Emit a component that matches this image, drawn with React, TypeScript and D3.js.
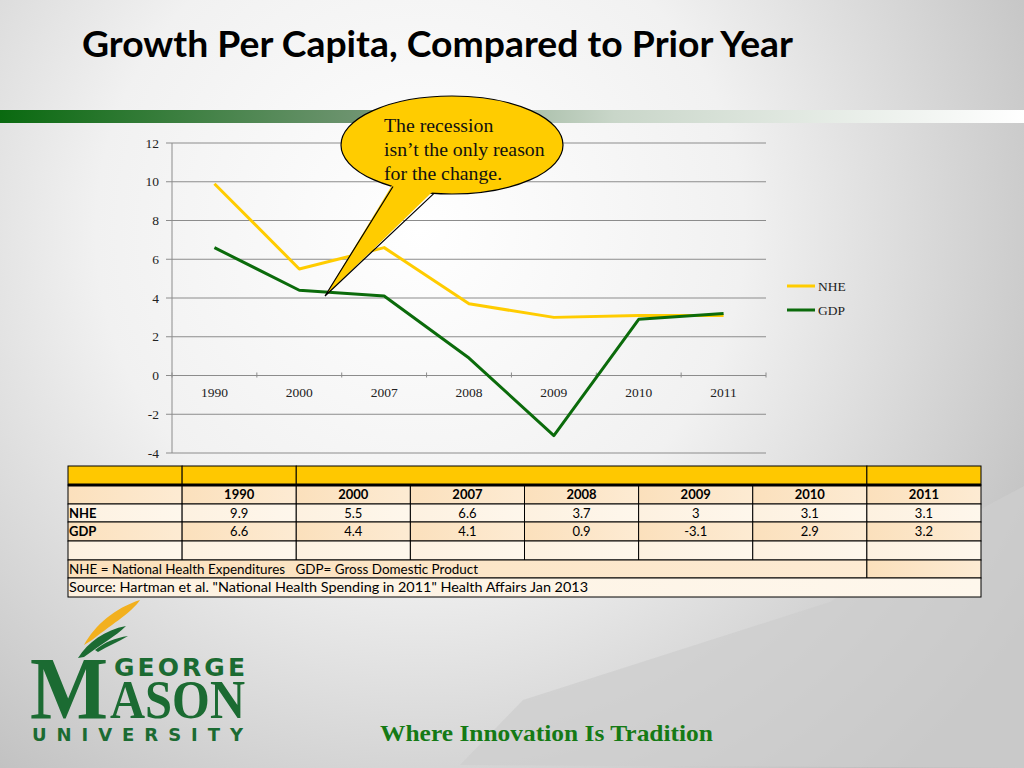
import React from "react";
import * as d3 from "d3";

const years = ["1990", "2000", "2007", "2008", "2009", "2010", "2011"];
const nhe = [9.9, 5.5, 6.6, 3.7, 3, 3.1, 3.1];
const gdp = [6.6, 4.4, 4.1, 0.9, -3.1, 2.9, 3.2];
const yTicks = [-4, -2, 0, 2, 4, 6, 8, 10, 12];
const seriesNames = ["NHE", "GDP"];
const title = "Growth Per Capita, Compared to Prior Year";
const calloutLines = ["The recession", "isn\u2019t the only reason", "for the change."];
const footnote = "NHE = National Health Expenditures   GDP= Gross Domestic Product";
const source = "Source: Hartman et al. \"National Health Spending in 2011\" Health Affairs Jan 2013";
const tagline = "Where Innovation Is Tradition";

const NHE_COLOR = "#FFCC00";
const GDP_COLOR = "#0B6B0B";
const LOGO_GREEN = "#1B6B32";

export default function App() {
  const x = d3.scaleBand<string>().domain(years).range([172, 766]).paddingInner(0).paddingOuter(0);
  const y = d3.scaleLinear().domain([-4, 12]).range([453, 143]);
  const cx = (d: string) => (x(d) as number) + x.bandwidth() / 2;

  const line = d3
    .line<number>()
    .x((_, i) => cx(years[i]))
    .y((v) => y(v));

  // table geometry
  const tL = 68;
  const tR = 981;
  const colW = (tR - tL) / 8;
  const colX = d3.range(9).map((i) => tL + i * colW);
  const rowY = [466, 485, 504, 522, 541, 560, 578, 597];

  const rowFill = (r: number) => (r % 2 === 1 ? "url(#rowA)" : "url(#rowB)");

  // callout geometry
  const ecx = 452, ecy = 145, erx = 111, ery = 49;
  const ey = (px: number) => ecy + ery * Math.sqrt(1 - ((px - ecx) / erx) ** 2);
  const b1x = 393, b2x = 434;
  const tip = [325, 296];

  const tableFont = "Lato, 'Open Sans', sans-serif";
  const serif = "'Liberation Serif', 'DejaVu Serif', serif";

  return (
    <svg
      width={1024}
      height={768}
      style={{ position: "absolute", left: 0, top: 0, display: "block" }}
      xmlns="http://www.w3.org/2000/svg"
    >
      <defs>
        <radialGradient id="bg" cx="420" cy="230" r="720" gradientUnits="userSpaceOnUse">
          <stop offset="0" stopColor="#ffffff" />
          <stop offset="0.45" stopColor="#f1f1f1" />
          <stop offset="1" stopColor="#bdbdbd" />
        </radialGradient>
        <linearGradient id="bar" x1="0" y1="0" x2="1024" y2="0" gradientUnits="userSpaceOnUse">
          <stop offset="0" stopColor="#0A6A10" />
          <stop offset="0.35" stopColor="#6E9470" />
          <stop offset="0.6" stopColor="#c9d6c9" />
          <stop offset="1" stopColor="#ffffff" />
        </linearGradient>
        <linearGradient id="rowA" x1="0" y1="0" x2="1" y2="0">
          <stop offset="0" stopColor="#FBE0BC" />
          <stop offset="1" stopColor="#FDEBD3" />
        </linearGradient>
        <linearGradient id="rowB" x1="0" y1="0" x2="1" y2="0">
          <stop offset="0" stopColor="#FDF1E0" />
          <stop offset="1" stopColor="#FEF7EC" />
        </linearGradient>
      </defs>

      {/* background */}
      <rect x={0} y={0} width={1024} height={768} fill="url(#bg)" />
      <path d="M1024,486 L975,512 L830,602 L523,700 L460,765 L1024,768 Z" fill="#cdcdcd" opacity={0.75} />

      {/* title */}
      <text
        x={82}
        y={57}
        fontFamily="Lato, 'Open Sans', sans-serif"
        fontWeight="bold"
        fontSize={37}
        fill="#000"
        textLength={711}
        lengthAdjust="spacingAndGlyphs"
      >
        {title}
      </text>

      {/* green band */}
      <rect x={0} y={110} width={1024} height={13} fill="url(#bar)" />

      {/* gridlines */}
      {yTicks.map((t) => (
        <line key={"g" + t} x1={172} x2={766} y1={y(t)} y2={y(t)} stroke="#8c8c8c" strokeWidth={1} />
      ))}
      {/* y axis */}
      <line x1={172} x2={172} y1={y(12)} y2={y(-4)} stroke="#8c8c8c" strokeWidth={1} />
      {yTicks.map((t) => (
        <g key={"yt" + t}>
          <line x1={166} x2={172} y1={y(t)} y2={y(t)} stroke="#8c8c8c" />
          <text x={159} y={y(t) + 4.5} textAnchor="end" fontFamily={serif} fontSize={13.5} fill="#222">
            {t}
          </text>
        </g>
      ))}
      {/* x axis ticks at zero */}
      {d3.range(8).map((i) => {
        const px = 172 + i * x.bandwidth();
        return <line key={"xt" + i} x1={px} x2={px} y1={y(0) - 3} y2={y(0) + 2} stroke="#8c8c8c" />;
      })}
      {years.map((yr) => (
        <text key={"xl" + yr} x={cx(yr)} y={397} textAnchor="middle" fontFamily={serif} fontSize={13.5} fill="#222">
          {yr}
        </text>
      ))}

      {/* series */}
      <path d={line(nhe) as string} fill="none" stroke={NHE_COLOR} strokeWidth={3} strokeLinejoin="round" />
      <path d={line(gdp) as string} fill="none" stroke={GDP_COLOR} strokeWidth={3} strokeLinejoin="round" />

      {/* legend */}
      {seriesNames.map((n, i) => (
        <g key={"lg" + n}>
          <line
            x1={787}
            x2={815}
            y1={286 + i * 24}
            y2={286 + i * 24}
            stroke={i === 0 ? NHE_COLOR : GDP_COLOR}
            strokeWidth={3}
          />
          <text x={818} y={290.5 + i * 24} fontFamily={serif} fontSize={13.5} fill="#222">
            {n}
          </text>
        </g>
      ))}

      {/* callout */}
      <ellipse cx={ecx} cy={ecy} rx={erx} ry={ery} fill="#FFCC00" stroke="#000" strokeWidth={1.2} />
      <polygon points={`${b1x},${ey(b1x) - 3} ${tip[0]},${tip[1]} ${b2x},${ey(b2x) - 3}`} fill="#FFCC00" />
      <polyline
        points={`${b1x},${ey(b1x)} ${tip[0]},${tip[1]} ${b2x},${ey(b2x)}`}
        fill="none"
        stroke="#000"
        strokeWidth={1.2}
        strokeLinejoin="miter"
      />
      {calloutLines.map((l, i) => (
        <text key={"cl" + i} x={384} y={132 + i * 24} fontFamily={serif} fontSize={19.8} fill="#111">
          {l}
        </text>
      ))}

      {/* table */}
      {[
        [0, 1],
        [1, 2],
        [2, 7],
        [7, 8],
      ].map(([a, b], i) => (
        <rect
          key={"h" + i}
          x={colX[a]}
          y={rowY[0]}
          width={colX[b] - colX[a]}
          height={rowY[1] - rowY[0]}
          fill="#FFC800"
          stroke="#000"
          strokeWidth={1}
        />
      ))}
      {[1, 2, 3, 4].map((r) =>
        d3.range(8).map((c) => (
          <rect
            key={`c${r}-${c}`}
            x={colX[c]}
            y={rowY[r]}
            width={colW}
            height={rowY[r + 1] - rowY[r]}
            fill={rowFill(r)}
            stroke="#000"
            strokeWidth={1}
          />
        ))
      )}
      <rect x={colX[0]} y={rowY[5]} width={colX[7] - colX[0]} height={rowY[6] - rowY[5]} fill={rowFill(5)} stroke="#000" />
      <rect x={colX[7]} y={rowY[5]} width={colW} height={rowY[6] - rowY[5]} fill={rowFill(5)} stroke="#000" />
      <rect x={colX[0]} y={rowY[6]} width={colX[8] - colX[0]} height={rowY[7] - rowY[6]} fill={rowFill(6)} stroke="#000" />
      <line x1={tL} x2={tR} y1={rowY[1]} y2={rowY[1]} stroke="#000" strokeWidth={3} />

      {years.map((yr, i) => (
        <text
          key={"ty" + yr}
          x={colX[i + 1] + colW / 2}
          y={rowY[1] + 14}
          textAnchor="middle"
          fontFamily={tableFont}
          fontWeight="bold"
          fontSize={13}
          fill="#000"
        >
          {yr}
        </text>
      ))}
      {seriesNames.map((n, si) => (
        <g key={"tr" + n}>
          <text x={69} y={rowY[2 + si] + 13.5} fontFamily={tableFont} fontWeight="bold" fontSize={13} fill="#000">
            {n}
          </text>
          {(si === 0 ? nhe : gdp).map((v, i) => (
            <text
              key={n + i}
              x={colX[i + 1] + colW / 2}
              y={rowY[2 + si] + 13.5}
              textAnchor="middle"
              fontFamily={tableFont}
              fontSize={13}
              fill="#000"
            >
              {String(v)}
            </text>
          ))}
        </g>
      ))}
      <text
        x={69}
        y={rowY[5] + 13.5}
        fontFamily={tableFont}
        fontSize={13}
        fill="#000"
        textLength={409}
        lengthAdjust="spacingAndGlyphs"
        style={{ whiteSpace: "pre" }}
      >
        {footnote}
      </text>
      <text
        x={69}
        y={rowY[6] + 14}
        fontFamily={tableFont}
        fontSize={13}
        fill="#000"
        textLength={519}
        lengthAdjust="spacingAndGlyphs"
      >
        {source}
      </text>

      {/* logo */}
      <path d="M84,645 C95,625 115,608 140,600 C132,612 115,622 92,640 Z" fill="#F2B01E" />
      <path d="M78,658 C88,642 105,630 126,626 C116,636 100,645 84,657 Z" fill={LOGO_GREEN} />
      <path d="M95,650 C105,642 115,638 128,636 C118,642 108,646 98,652 Z" fill={LOGO_GREEN} />
      <text
        x={30}
        y={718}
        fontFamily={serif}
        fontWeight="bold"
        fontSize={88}
        fill={LOGO_GREEN}
        textLength={78}
        lengthAdjust="spacingAndGlyphs"
      >
        M
      </text>
      <text
        x={110}
        y={718}
        fontFamily={serif}
        fontWeight="bold"
        fontSize={54}
        fill={LOGO_GREEN}
        textLength={135}
        lengthAdjust="spacingAndGlyphs"
      >
        ASON
      </text>
      <text
        x={114}
        y={676}
        fontFamily="'DejaVu Sans', sans-serif"
        fontWeight="bold"
        fontSize={25}
        fill={LOGO_GREEN}
        textLength={131}
        lengthAdjust="spacing"
      >
        GEORGE
      </text>
      <text
        x={32}
        y={741}
        fontFamily="'DejaVu Sans', sans-serif"
        fontWeight="bold"
        fontSize={18}
        fill={LOGO_GREEN}
        textLength={211}
        lengthAdjust="spacing"
      >
        UNIVERSITY
      </text>

      {/* tagline */}
      <text
        x={380}
        y={741}
        fontFamily={serif}
        fontWeight="bold"
        fontSize={24}
        fill="#157A15"
        textLength={333}
        lengthAdjust="spacingAndGlyphs"
      >
        {tagline}
      </text>
    </svg>
  );
}
